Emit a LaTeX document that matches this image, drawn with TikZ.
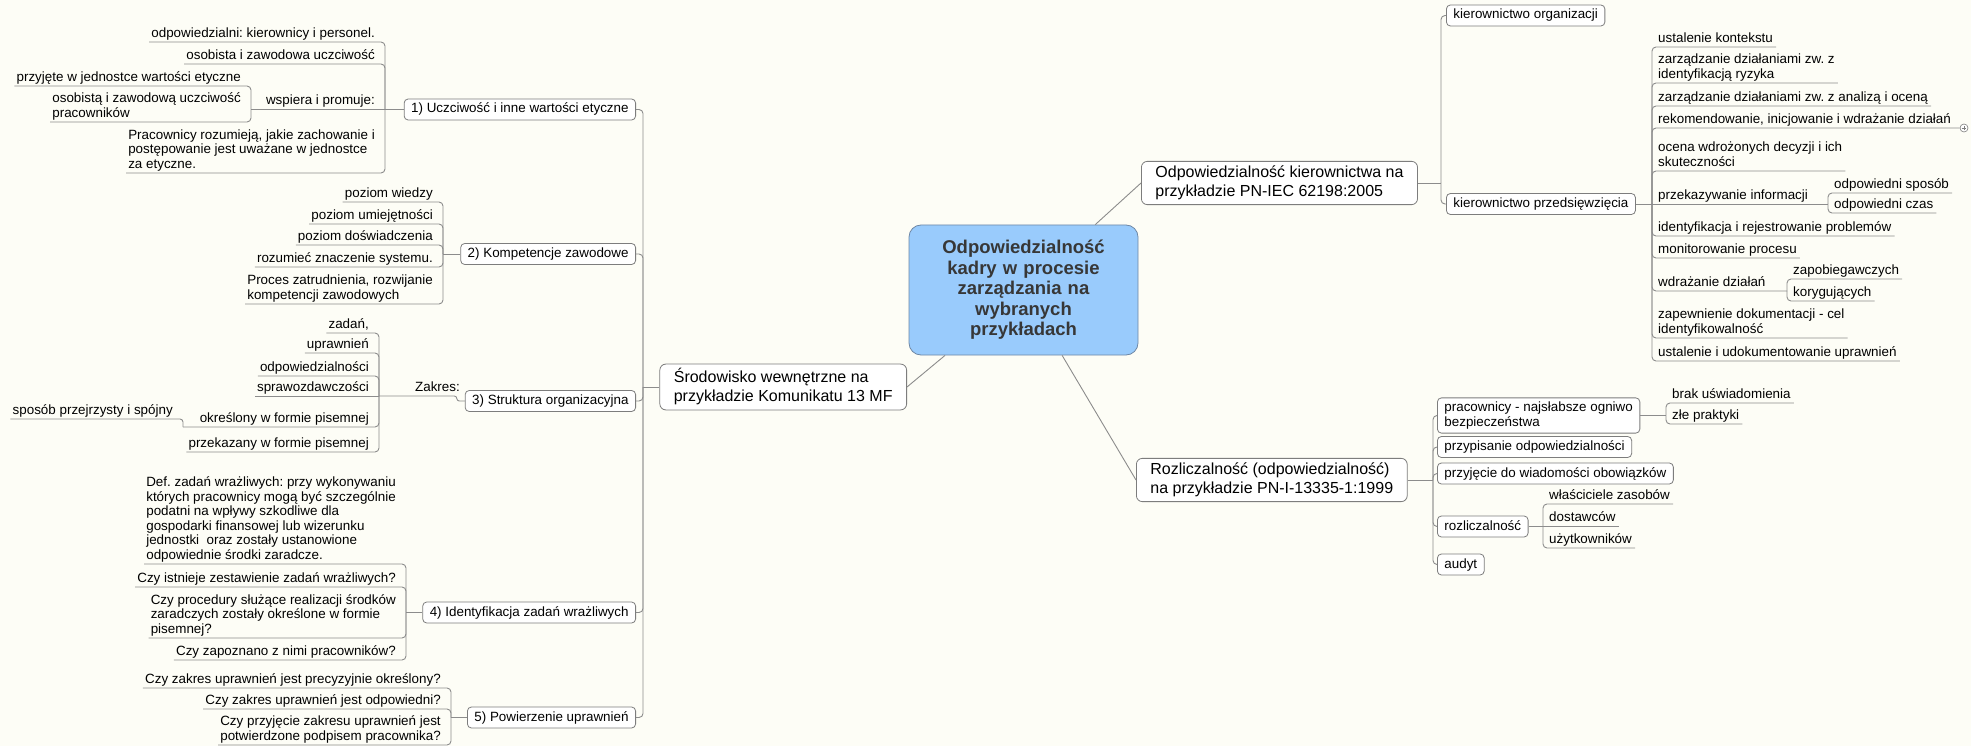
\documentclass[tikz,border=0pt]{standalone}
\usepackage{fontspec}
\setmainfont{Liberation Sans}
\frenchspacing
\definecolor{bgc}{RGB}{253,253,246}
\definecolor{linegray}{RGB}{140,140,140}
\definecolor{boxgray}{RGB}{125,125,125}
\definecolor{cblue}{RGB}{153,203,252}
\definecolor{cborder}{RGB}{110,135,165}
\definecolor{ctext}{RGB}{55,55,55}
\tikzset{
  conn/.style={draw=linegray, line width=0.9pt, rounded corners=4pt},
  leaf/.style={font=\fontsize{13.4}{14.5}\selectfont, align=left, inner ysep=1.5pt,
    execute at end node={\rule[-3pt]{0pt}{3pt}}},
  leafL/.style={leaf, anchor=south east, inner xsep=2pt},
  leafR/.style={leaf, anchor=south west, inner xsep=3pt},
  sbox/.style={draw=boxgray, fill=white, rounded corners=4pt, line width=0.8pt,
    font=\fontsize{13.4}{14.5}\selectfont, align=left, inner xsep=7pt, inner ysep=4pt,
    execute at begin node={\rule{0pt}{10pt}}, execute at end node={\rule[-3pt]{0pt}{3pt}}},
  mbox/.style={draw=boxgray, fill=white, rounded corners=6pt, line width=0.8pt,
    font=\fontsize{16}{19}\selectfont, align=left, inner xsep=14pt, inner ysep=4.5pt,
    execute at begin node={\rule{0pt}{12pt}}, execute at end node={\rule[-3.5pt]{0pt}{3.5pt}}},
  central/.style={draw=cborder, fill=cblue, rounded corners=12pt, line width=0.8pt,
    font=\bfseries\fontsize{18.5}{20.5}\selectfont, text=ctext, align=center,
    text width=215pt, minimum width=229pt, minimum height=130pt, inner sep=0pt},
  jn/.style={coordinate}
}
\begin{document}
\begin{tikzpicture}[x=1pt,y=-1pt]
\fill[bgc] (0,0) rectangle (1971,746);
\useasboundingbox (0,0) rectangle (1971,746);

% central and main topics
\node[central] (c) at (1023.5,290) {Odpowiedzialność\\kadry w procesie\\zarządzania na\\wybranych\\przykładach};
\node[mbox, anchor=east] (sr) at (907,387) {Środowisko wewnętrzne na\\przykładzie Komunikatu 13 MF};
\node[mbox, anchor=west] (ok) at (1141,183) {Odpowiedzialność kierownictwa na\\przykładzie PN-IEC 62198:2005};
\node[mbox, anchor=west] (rz) at (1136,480) {Rozliczalność (odpowiedzialność)\\na przykładzie PN-I-13335-1:1999};
\draw[conn] (c) -- (sr.east);
\draw[conn] (c) -- (ok.west);
\draw[conn] (c) -- (rz.west);

% ---------------- left side ----------------
\node[sbox, anchor=east] (p1) at (636,109.5) {1) Uczciwość i inne wartości etyczne};
\node[sbox, anchor=east] (p2) at (636,254) {2) Kompetencje zawodowe};
\node[sbox, anchor=east] (p3) at (636,401) {3) Struktura organizacyjna};
\node[sbox, anchor=east] (p4) at (636,612.5) {4) Identyfikacja zadań wrażliwych};
\node[sbox, anchor=east] (p5) at (636,717.5) {5) Powierzenie uprawnień};
\node[jn] (j0) at (643,387) {};
\draw[conn] (sr.west) -- (j0);
\foreach \p in {p1,p2,p3,p4,p5} \draw[conn] (j0) |- (\p.east);

% group 1
\node[jn] (j1) at (385,109.5) {};
\draw[conn] (p1.west) -- (j1);
\node[leafL] (a1) at (377,42) {odpowiedzialni: kierownicy i personel.};
\node[leafL] (a2) at (377,64) {osobista i zawodowa uczciwość};
\node[leafL] (a3) at (377,109.5) {wspiera i promuje:};
\node[jn] (a3L) at (251,109.5) {};
\node[leafL] (a31) at (243,86) {przyjęte w jednostce wartości etyczne};
\node[leafL] (a32) at (243,122) {osobistą i zawodową uczciwość\\pracowników};
\node[leafL] (a4) at (377,173) {Pracownicy rozumieją, jakie zachowanie i\\postępowanie jest uważane w jednostce\\za etyczne.};
\draw[conn] (j1) |- (a1.south west);
\draw[conn] (j1) |- (a2.south west);
\draw[conn] (j1) -- (a3L);
\draw[conn] (j1) |- (a4.south west);
\draw[conn] (a3L) |- (a31.south west);
\draw[conn] (a3L) |- (a32.south west);

% group 2
\node[jn] (j2) at (443,254) {};
\draw[conn] (p2.west) -- (j2);
\node[leafL] (b1) at (435,202) {poziom wiedzy};
\node[leafL] (b2) at (435,224) {poziom umiejętności};
\node[leafL] (b3) at (435,245) {poziom doświadczenia};
\node[leafL] (b4) at (435,267) {rozumieć znaczenie systemu.};
\node[leafL] (b5) at (435,304) {Proces zatrudnienia, rozwijanie\\kompetencji zawodowych};
\foreach \b in {b1,b2,b3,b4,b5} \draw[conn] (j2) |- (\b.south west);

% group 3
\node[leafL, inner xsep=1pt] (zk) at (461,396) {Zakres:};
\node[jn] (j3) at (379,396) {};
\draw[conn, rounded corners=2.5pt] (p3.west) -- ++(-8,0) |- (j3);
\node[leafL] (c1) at (371,333) {zadań,};
\node[leafL] (c2) at (371,353) {uprawnień};
\node[leafL] (c3) at (371,376) {odpowiedzialności};
\node[leafL] (c4) at (371,396) {sprawozdawczości};
\node[leafL] (c5) at (371,427) {określony w formie pisemnej};
\node[jn] (c5L) at (183,427) {};
\node[leafL] (c51) at (175,419) {sposób przejrzysty i spójny};
\node[leafL] (c6) at (371,452) {przekazany w formie pisemnej};
\draw[conn] (j3) |- (c1.south west);
\draw[conn] (j3) |- (c2.south west);
\draw[conn] (j3) |- (c3.south west);
\draw[conn] (j3) -- (c4.south west);
\draw[conn] (j3) |- (c5L);
\draw[conn, rounded corners=3pt] (c5L) |- (c51.south west);
\draw[conn] (j3) |- (c6.south west);

% group 4
\node[jn] (j4) at (406,612.5) {};
\draw[conn] (p4.west) -- (j4);
\node[leafL] (d1) at (398,564) {Def. zadań wrażliwych: przy wykonywaniu\\których pracownicy mogą być szczególnie\\podatni na wpływy szkodliwe dla\\gospodarki finansowej lub wizerunku\\jednostki~ oraz zostały ustanowione\\odpowiednie środki zaradcze.};
\node[leafL] (d2) at (398,587) {Czy istnieje zestawienie zadań wrażliwych?};
\node[leafL] (d3) at (398,638) {Czy procedury służące realizacji środków\\zaradczych zostały określone w formie\\pisemnej?};
\node[leafL] (d4) at (398,660) {Czy zapoznano z nimi pracowników?};
\foreach \d in {d1,d2,d3,d4} \draw[conn] (j4) |- (\d.south west);

% group 5
\node[jn] (j5) at (451,717.5) {};
\draw[conn] (p5.west) -- (j5);
\node[leafL] (e1) at (443,688) {Czy zakres uprawnień jest precyzyjnie określony?};
\node[leafL] (e2) at (443,709) {Czy zakres uprawnień jest odpowiedni?};
\node[leafL] (e3) at (443,745) {Czy przyjęcie zakresu uprawnień jest\\potwierdzone podpisem pracownika?};
\foreach \e in {e1,e2,e3} \draw[conn] (j5) |- (\e.south west);

% ---------------- right side: kierownictwo ----------------
\node[jn] (jo) at (1441,183) {};
\draw[conn] (ok.east) -- (jo);
\node[sbox, anchor=west] (ko) at (1446,15.5) {kierownictwo organizacji};
\node[sbox, anchor=west] (kp) at (1446,204) {kierownictwo przedsięwzięcia};
\draw[conn] (jo) |- (ko.west);
\draw[conn] (jo) |- (kp.west);

\node[jn] (jk) at (1652,204) {};
\draw[conn] (kp.east) -- (jk);
\node[leafR] (f1) at (1655,47) {ustalenie kontekstu};
\node[leafR] (f2) at (1655,83) {zarządzanie działaniami zw. z\\identyfikacją ryzyka};
\node[leafR] (f3) at (1655,106) {zarządzanie działaniami zw. z analizą i oceną};
\node[leafR] (f4) at (1655,128) {rekomendowanie, inicjowanie i wdrażanie działań};
\node[draw=boxgray, fill=white, circle, inner sep=0pt, minimum size=8pt, line width=0.6pt] (plus) at (1964,128) {};
\draw[boxgray, line width=0.6pt] ([xshift=-2.3pt]plus.center) -- ([xshift=2.3pt]plus.center);
\draw[boxgray, line width=0.6pt] ([yshift=-2.3pt]plus.center) -- ([yshift=2.3pt]plus.center);
\node[leafR] (f5) at (1655,171) {ocena wdrożonych decyzji i ich\\skuteczności};
\node[leafR] (f6) at (1655,204) {przekazywanie informacji};
\node[jn] (f6R) at (1828,204) {};
\node[leafR] (g1) at (1831,193) {odpowiedni sposób};
\node[leafR] (g2) at (1831,213) {odpowiedni czas};
\node[leafR] (f7) at (1655,236) {identyfikacja i rejestrowanie problemów};
\node[leafR] (f8) at (1655,258) {monitorowanie procesu};
\node[leafR] (f9) at (1655,291) {wdrażanie działań};
\node[jn] (f9R) at (1787,291) {};
\node[leafR] (h1) at (1790,279) {zapobiegawczych};
\node[leafR] (h2) at (1790,301) {korygujących};
\node[leafR] (f10) at (1655,338) {zapewnienie dokumentacji - cel\\identyfikowalność};
\node[leafR] (f11) at (1655,361) {ustalenie i udokumentowanie uprawnień};
\foreach \f in {f1,f2,f3,f5,f7,f8,f10,f11} \draw[conn] (jk) |- (\f.south east);
\draw[conn] (jk) |- (plus.west);
\draw[conn] (jk) -- (f6R);
\draw[conn] (jk) |- (f9R);
\draw[conn] (f6R) |- (g1.south east);
\draw[conn] (f6R) |- (g2.south east);
\draw[conn] (f9R) |- (h1.south east);
\draw[conn] (f9R) |- (h2.south east);

% ---------------- right side: rozliczalnosc ----------------
\node[jn] (jr) at (1433,480) {};
\draw[conn] (rz.east) -- (jr);
\node[sbox, anchor=west] (k1) at (1437,415.5) {pracownicy - najsłabsze ogniwo\\bezpieczeństwa};
\node[sbox, anchor=west] (k2) at (1437,447) {przypisanie odpowiedzialności};
\node[sbox, anchor=west] (k3) at (1437,473.5) {przyjęcie do wiadomości obowiązków};
\node[sbox, anchor=west] (k4) at (1437,526.5) {rozliczalność};
\node[sbox, anchor=west] (k5) at (1437,564.5) {audyt};
\foreach \k in {k1,k2,k3,k4,k5} \draw[conn] (jr) |- (\k.west);

\node[jn] (jk1) at (1666,415.5) {};
\draw[conn] (k1.east) -- (jk1);
\node[leafR] (l1) at (1669,403) {brak uświadomienia};
\node[leafR] (l2) at (1669,424) {złe praktyki};
\draw[conn] (jk1) |- (l1.south east);
\draw[conn] (jk1) |- (l2.south east);

\node[jn] (jk4) at (1543,526.5) {};
\draw[conn] (k4.east) -- (jk4);
\node[leafR] (m1) at (1546,504) {właściciele zasobów};
\node[leafR] (m2) at (1546,526.5) {dostawców};
\node[leafR] (m3) at (1546,548) {użytkowników};
\draw[conn] (jk4) |- (m1.south east);
\draw[conn] (jk4) -- (m2.south east);
\draw[conn] (jk4) |- (m3.south east);
\end{tikzpicture}
\end{document}
